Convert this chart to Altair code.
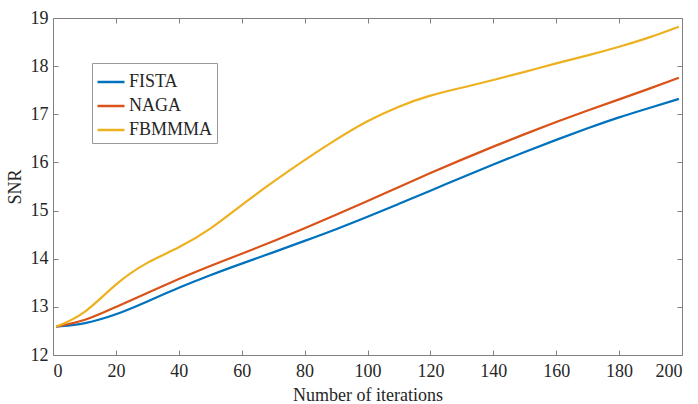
import altair as alt
import pandas as pd

iters = [1, 10, 20, 30, 40, 50, 60, 70, 80, 90, 100, 110, 120, 130, 140, 150, 160, 170, 180, 190, 199]
fista = [12.59, 12.64, 12.83, 13.11, 13.40, 13.66, 13.90, 14.13, 14.37, 14.61, 14.87, 15.14, 15.41, 15.69, 15.96, 16.22, 16.47, 16.71, 16.94, 17.14, 17.32]
naga = [12.59, 12.70, 13.00, 13.29, 13.58, 13.85, 14.10, 14.36, 14.63, 14.91, 15.20, 15.49, 15.78, 16.06, 16.33, 16.59, 16.84, 17.08, 17.31, 17.54, 17.76]
fbmmma = [12.59, 12.83, 13.50, 13.94, 14.22, 14.60, 15.12, 15.60, 16.05, 16.48, 16.87, 17.17, 17.40, 17.55, 17.71, 17.88, 18.06, 18.22, 18.40, 18.60, 18.82]
methods = ["FISTA", "NAGA", "FBMMMA"]
colors = ["#0072BD", "#D95319", "#EDB120"]
x_ticks = [0, 20, 40, 60, 80, 100, 120, 140, 160, 180, 200]
y_ticks = [12, 13, 14, 15, 16, 17, 18, 19]

rows = []
for name, vals in zip(methods, [fista, naga, fbmmma]):
    for it, v in zip(iters, vals):
        rows.append({"iter": it, "snr": v, "method": name})
df = pd.DataFrame(rows)

FONT = "'Liberation Serif', 'Times New Roman', Times, serif"
AX = "#808080"

xs = alt.Scale(domain=[0, 200], nice=False, zero=False)
ys = alt.Scale(domain=[12, 19], nice=False, zero=False)

lines = alt.Chart(df).mark_line(strokeWidth=2.2, interpolate="basis").encode(
    x=alt.X("iter:Q", scale=xs, axis=alt.Axis(
        orient="bottom", values=x_ticks, title="Number of iterations", domain=False,
        tickSize=5, offset=-5, tickColor=AX, labelPadding=7, labelFont=FONT, labelFontSize=18,
        labelColor="#262626", titleFont=FONT, titleFontSize=18, titleFontWeight="normal",
        titleColor="#262626", titlePadding=6, grid=False)),
    y=alt.Y("snr:Q", scale=ys, axis=alt.Axis(
        orient="left", values=y_ticks, title="SNR", domain=False,
        tickSize=5, offset=-5, tickColor=AX, labelPadding=5, labelFont=FONT, labelFontSize=18,
        labelColor="#262626", titleFont=FONT, titleFontSize=18, titleFontWeight="normal",
        titleColor="#262626", titlePadding=6, grid=False)),
    color=alt.Color("method:N", scale=alt.Scale(domain=methods, range=colors),
                    sort=methods,
                    legend=alt.Legend(title=None, orient="none", legendX=39, legendY=45,
                                      symbolType="stroke", symbolSize=729, symbolStrokeWidth=2.5,
                                      labelFont=FONT, labelFontSize=18, labelColor="#262626",
                                      strokeColor="#999", fillColor="white", padding=4,
                                      rowPadding=-5, labelOffset=3)),
)

ticks = alt.Chart(df).mark_line(opacity=0).encode(
    x=alt.X("iter:Q", scale=xs, axis=alt.Axis(
        orient="top", values=x_ticks, title=None, domain=False, labels=False,
        tickSize=5, offset=-5, tickColor=AX, grid=False)),
    y=alt.Y("snr:Q", scale=ys, axis=alt.Axis(
        orient="right", values=y_ticks, title=None, domain=False, labels=False,
        tickSize=5, offset=-5, tickColor=AX, grid=False)),
    detail="method:N",
)

chart = alt.layer(lines, ticks).resolve_axis(x="independent", y="independent").properties(
    width=629, height=337,
    autosize=alt.AutoSizeParams(type="none"),
    padding={"left": 53, "top": 18, "right": 16, "bottom": 49},
    background="white",
).configure(font=FONT).configure_view(stroke=AX, strokeWidth=1)

chart.save("out.html", embed_options={"renderer": "svg", "actions": False})
